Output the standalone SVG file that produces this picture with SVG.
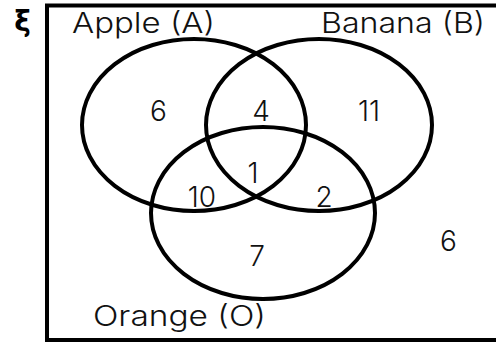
<svg xmlns="http://www.w3.org/2000/svg" width="496" height="342" viewBox="0 0 496 342">
<style>
.set{fill:none;stroke:#000;stroke-width:4}
.lbl{font-family:Inter,"DejaVu Sans","Liberation Sans",sans-serif;font-weight:300;font-size:28px;fill:#111}
.num{font-family:Inter,"DejaVu Sans","Liberation Sans",sans-serif;font-weight:300;font-size:28px;fill:#111;text-anchor:middle}
</style>
<rect width="496" height="342" fill="#fff"/>
<g id="universe">
<rect x="47" y="5.5" width="470" height="334.5" fill="none" stroke="#000" stroke-width="4"/>
<text x="22.5" y="31" font-family="DejaVu Sans, sans-serif" font-weight="bold" font-size="28" text-anchor="middle">ξ</text>
<text class="num" x="448.5" y="251">6</text>
</g>
<g id="setA">
<ellipse class="set" cx="194" cy="125" rx="112" ry="86"/>
<text class="lbl" x="72" y="32.5" textLength="143" lengthAdjust="spacingAndGlyphs">Apple (A)</text>
</g>
<g id="setB">
<ellipse class="set" cx="319" cy="125" rx="113" ry="86"/>
<text class="lbl" x="321" y="32.5" textLength="164" lengthAdjust="spacingAndGlyphs">Banana (B)</text>
</g>
<g id="setO">
<ellipse class="set" cx="263" cy="213" rx="112" ry="86"/>
<text class="lbl" x="93" y="326" textLength="173" lengthAdjust="spacingAndGlyphs">Orange (O)</text>
</g>
<g id="regions">
<text class="num" x="158.5" y="121">6</text>
<text class="num" x="261" y="121">4</text>
<text class="num" x="369" y="121">11</text>
<text class="num" x="253" y="183">1</text>
<text class="num" x="202" y="206.5">10</text>
<text class="num" x="324" y="206.5">2</text>
<text class="num" x="257" y="266">7</text>
</g>
</svg>
